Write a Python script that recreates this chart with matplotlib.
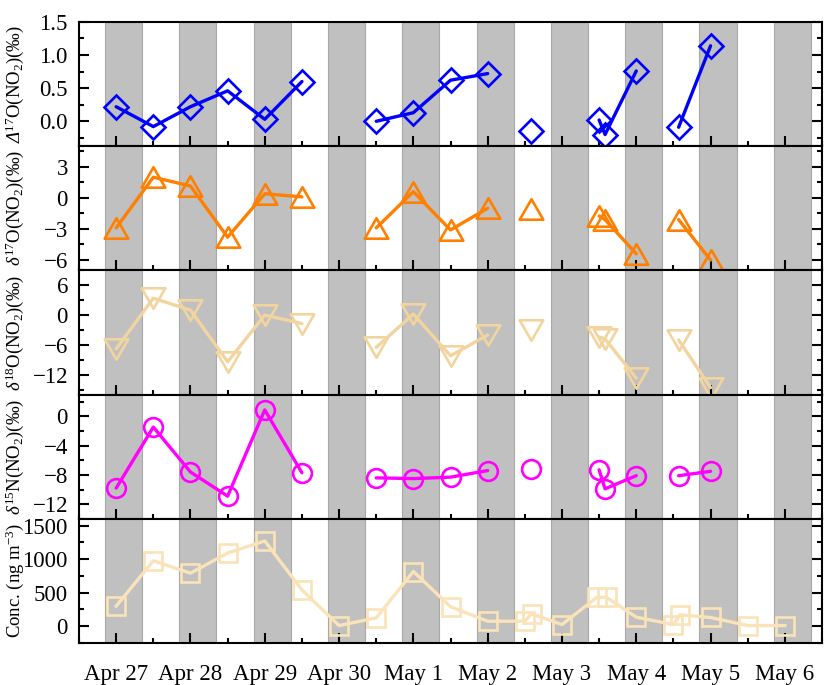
import numpy as np
import matplotlib
matplotlib.use("Agg")
import matplotlib.pyplot as plt
from matplotlib.path import Path
from matplotlib.ticker import MultipleLocator, FuncFormatter

plt.rcParams['font.family'] = ['Liberation Serif', 'DejaVu Serif']
plt.rcParams['mathtext.fontset'] = 'custom'
plt.rcParams['mathtext.rm'] = 'Liberation Serif'
plt.rcParams['mathtext.it'] = 'Liberation Serif:italic'
plt.rcParams['mathtext.sf'] = 'Liberation Serif:italic'

# ---------------- data ----------------
day_labels = ['Apr 27', 'Apr 28', 'Apr 29', 'Apr 30', 'May 1',
              'May 2', 'May 3', 'May 4', 'May 5', 'May 6']
# night periods, in days relative to each labelled tick
night_start = -0.15
night_end = 0.35

# isotope sampling times (days since Apr 27 tick) and connected-segment ids
iso_time = [0.0, 0.5, 1.0, 1.5, 2.0, 2.5, 3.5, 4.0, 4.5, 5.0, 5.58, 6.50, 6.58, 7.0, 7.57, 8.0]
iso_segment = [1, 1, 1, 1, 1, 1, 2, 2, 2, 2, 3, 4, 4, 4, 5, 5]

cap_d17O = [0.22, -0.08, 0.22, 0.46, 0.03, 0.60, 0.00, 0.13, 0.62, 0.72,
            -0.14, 0.02, -0.20, 0.76, -0.09, 1.14]
d17O = [-2.9, 2.0, 1.15, -3.8, 0.4, 0.1, -2.9, 0.6, -3.1, -1.0,
        -1.1, -1.75, -2.1, -5.4, -2.1, -6.0]
d18O = [-6.8, 3.4, 1.0, -9.4, 0.0, -1.7, -6.5, 0.2, -8.2, -4.0,
        -3.0, -4.4, -4.8, -12.7, -5.0, -14.6]
d15N = [-9.8, -1.45, -7.6, -10.9, 0.9, -7.7, -8.4, -8.5, -8.3, -7.4,
        -7.2, -7.3, -9.9, -8.1, -8.1, -7.5]

conc_time = [0.0, 0.5, 1.0, 1.5, 2.0, 2.5, 3.0, 3.5, 4.0, 4.5, 5.0, 5.5, 5.59,
             6.0, 6.47, 6.6, 7.0, 7.5, 7.59, 8.0, 8.5, 9.0]
conc = [300, 975, 790, 1090, 1270, 540, 10, 125, 815, 290, 75, 75, 185,
        25, 430, 430, 135, 25, 170, 130, 10, 10]

# ---------------- styles ----------------
tri_up = Path([(0, 0.866), (-1, -0.866), (1, -0.866), (0, 0.866)],
              [Path.MOVETO, Path.LINETO, Path.LINETO, Path.CLOSEPOLY])
tri_dn = Path([(0, -0.866), (-1, 0.866), (1, 0.866), (0, -0.866)],
              [Path.MOVETO, Path.LINETO, Path.LINETO, Path.CLOSEPOLY])


def make_fmt(fmt):
    return FuncFormatter(lambda v, pos: (fmt % v).replace('-', '\u2212'))


panels = [
    dict(y=cap_d17O, color='#0000FF', marker='D', ms=12.2,
         label=r'$\mathsf{\Delta}^{17}$O(NO$_2$)(‰)',
         ylim=(-0.375, 1.5), major=0.5, minor=0.25, fmt='%.1f'),
    dict(y=d17O, color='#FF8000', marker=tri_up, ms=17,
         label=r'$\mathit{\delta}^{17}$O(NO$_2$)(‰)',
         ylim=(-7, 5), major=3, minor=1.5, fmt='%d'),
    dict(y=d18O, color='#F2D49F', marker=tri_dn, ms=17,
         label=r'$\mathit{\delta}^{18}$O(NO$_2$)(‰)',
         ylim=(-16, 9), major=6, minor=3, fmt='%d'),
    dict(y=d15N, color='#FF00FF', marker='o', ms=13.5,
         label=r'$\mathit{\delta}^{15}$N(NO$_2$)(‰)',
         ylim=(-14, 3), major=4, minor=2, fmt='%d'),
]

fig = plt.figure(figsize=(8.24, 6.85), dpi=100)
axes = fig.subplots(5, 1, sharex=True)
fig.subplots_adjust(left=0.0959, right=0.9976, top=0.968, bottom=0.0613, hspace=0)

ndays = len(day_labels)
TICKSIZE = 16.5
LABELSIZE = 13.5
LABEL_X = -0.071


def style_axis(ax):
    for d in range(ndays):
        ax.axvspan(d + night_start, d + night_end, facecolor='#C0C0C0',
                   edgecolor='#A8A8A8', lw=0.8, zorder=0)
    ax.set_xlim(-0.5, ndays - 0.5)
    ax.xaxis.set_major_locator(MultipleLocator(1))
    ax.xaxis.set_minor_locator(MultipleLocator(0.5))
    ax.tick_params(axis='x', which='both', direction='in', top=False, bottom=True,
                   width=1.5, labelsize=TICKSIZE, pad=15)
    ax.tick_params(axis='x', which='major', length=7)
    ax.tick_params(axis='x', which='minor', length=3.5)
    ax.tick_params(axis='y', which='both', direction='in', left=True, right=True,
                   width=1.5, labelsize=TICKSIZE, pad=8)
    ax.tick_params(axis='y', which='major', length=7)
    ax.tick_params(axis='y', which='minor', length=3.5)
    for s in ax.spines.values():
        s.set_linewidth(1.5)
        s.set_zorder(5)


iso_time_a = np.array(iso_time)
seg_a = np.array(iso_segment)
for ax, p in zip(axes[:4], panels):
    style_axis(ax)
    ya = np.array(p['y'])
    for s in np.unique(seg_a):
        m = seg_a == s
        ax.plot(iso_time_a[m], ya[m], '-', color=p['color'], lw=2.4, zorder=3,
                solid_capstyle='round')
    ax.plot(iso_time_a, ya, ls='none', marker=p['marker'], ms=p['ms'],
            mfc='none', mec=p['color'], mew=1.9, zorder=4)
    ax.set_ylim(*p['ylim'])
    ax.yaxis.set_major_locator(MultipleLocator(p['major']))
    ax.yaxis.set_minor_locator(MultipleLocator(p['minor']))
    ax.yaxis.set_major_formatter(make_fmt(p['fmt']))
    ax.set_ylabel(p['label'], fontsize=LABELSIZE)
    ax.yaxis.set_label_coords(LABEL_X, 0.5)

# concentration panel
ax = axes[4]
style_axis(ax)
ax.plot(conc_time, conc, '-', color='#FAE3B8', lw=2.4, zorder=3)
ax.plot(conc_time, conc, ls='none', marker='s', ms=12.5, mfc='none',
        mec='#FAE3B8', mew=1.9, zorder=4)
ax.set_ylim(-250, 1600)
ax.yaxis.set_major_locator(MultipleLocator(500))
ax.yaxis.set_minor_locator(MultipleLocator(250))
ax.yaxis.set_major_formatter(make_fmt('%d'))
ax.set_ylabel(r'Conc. (ng m$^{-3}$)', fontsize=LABELSIZE)
ax.yaxis.set_label_coords(LABEL_X, 0.5)
ax.set_xticks(range(ndays))
ax.set_xticklabels(day_labels)

for a in axes[:4]:
    a.tick_params(axis='x', labelbottom=False)

fig.savefig('out.png', dpi=100)
